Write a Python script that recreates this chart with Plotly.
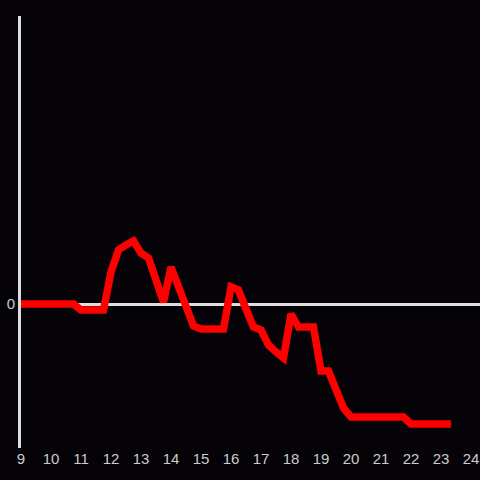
import plotly.graph_objects as go

hours = [9.0, 10.75, 11.0, 11.75, 12.0, 12.25, 12.5, 12.75, 13.0, 13.25, 13.5, 13.75,
         14.0, 14.25, 14.5, 14.75, 15.0, 15.75, 16.0, 16.25, 16.5, 16.75, 17.0, 17.25,
         17.5, 17.75, 18.0, 18.25, 18.75, 19.0, 19.25, 19.5, 19.75, 20.0, 21.75, 22.0, 23.33]
values = [0.0, 0.0, -0.6, -0.6, 3.2, 5.4, 5.9, 6.3, 5.1, 4.6, 2.4, 0.2,
          3.7, 1.8, -0.2, -2.2, -2.5, -2.5, 1.7, 1.4, -0.5, -2.3, -2.6, -4.1,
          -4.8, -5.4, -1.0, -2.3, -2.3, -6.7, -6.7, -8.6, -10.4, -11.3, -11.3, -12.0, -12.0]
x_ticks = list(range(9, 25))
y_ticks = [0]

bg = "#050307"
axis_col = "#dddddd"
label_col = "#cccccc"

fig = go.Figure(go.Scatter(x=hours, y=values, mode="lines",
                           line=dict(color="#ff0000", width=7.5), hoverinfo="skip"))

fig.update_layout(
    width=480, height=480,
    paper_bgcolor=bg, plot_bgcolor=bg,
    margin=dict(l=21, r=0, t=16, b=32, autoexpand=False),
    showlegend=False,
    font=dict(family="Liberation Sans, Arial, sans-serif", size=15, color=label_col),
    xaxis=dict(range=[9, 24.3], tickvals=x_ticks, ticktext=[str(t) for t in x_ticks],
               showgrid=False, zeroline=False, showline=False, ticks="",
               tickfont=dict(size=15, color=label_col)),
    yaxis=dict(range=[-14.4, 28.8], tickvals=y_ticks, ticktext=["0"],
               showgrid=False, zeroline=True, zerolinecolor=axis_col, zerolinewidth=3,
               showline=True, linecolor=axis_col, linewidth=3, ticks="",
               tickfont=dict(size=15, color=label_col)),
)

fig.write_html("out.html", config={"displayModeBar": False},
               post_script="document.body.style.margin='0';document.body.style.background='%s';" % bg)
